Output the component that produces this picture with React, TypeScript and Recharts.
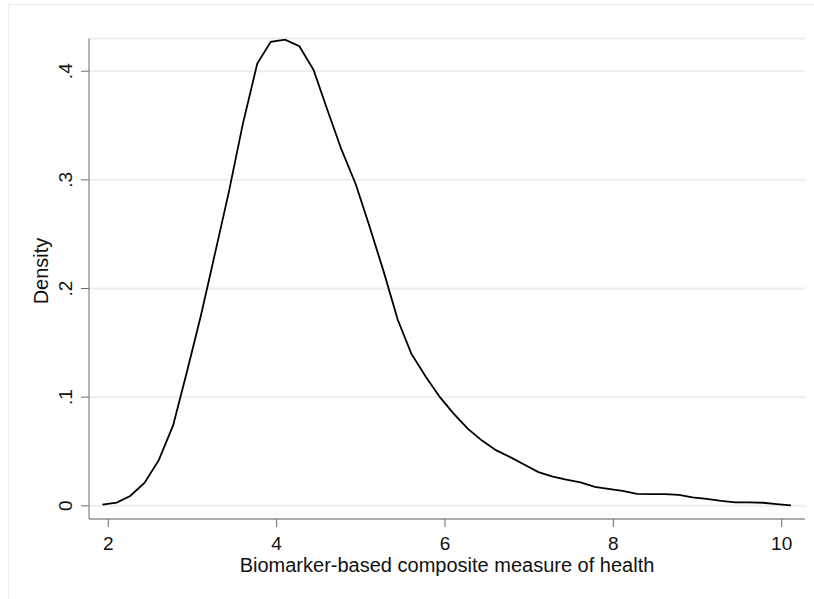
import { LineChart, Line, XAxis, YAxis, CartesianGrid } from 'recharts'

// evaluation points of the kernel density estimate
const xPoints = [
  1.93, 2.10, 2.26, 2.43, 2.60, 2.77, 2.93, 3.10, 3.27, 3.43,
  3.60, 3.77, 3.93, 4.10, 4.27, 4.44, 4.60, 4.77, 4.94, 5.10,
  5.27, 5.44, 5.60, 5.77, 5.94, 6.10, 6.27, 6.44, 6.61, 6.77,
  6.94, 7.11, 7.27, 7.44, 7.61, 7.78, 7.94, 8.11, 8.28, 8.44,
  8.61, 8.78, 8.94, 9.11, 9.28, 9.45, 9.61, 9.78, 9.94, 10.11,
]

const densities = [
  0.001, 0.003, 0.009, 0.021, 0.042, 0.074, 0.122, 0.175, 0.233, 0.288,
  0.352, 0.407, 0.427, 0.429, 0.423, 0.401, 0.365, 0.328, 0.296, 0.258,
  0.216, 0.171, 0.140, 0.119, 0.100, 0.085, 0.071, 0.060, 0.051, 0.045,
  0.038, 0.031, 0.027, 0.024, 0.0215, 0.0175, 0.0156, 0.0138, 0.011, 0.0108,
  0.0108, 0.0101, 0.0077, 0.0064, 0.0046, 0.0031, 0.0031, 0.0028, 0.0016, 0.0004,
]

const xTicks = [2, 4, 6, 8, 10]
const yTicks = [0, 0.1, 0.2, 0.3, 0.4]

const xTitle = 'Biomarker-based composite measure of health'
const yTitle = 'Density'

const data = xPoints.map((x, i) => ({ x, density: densities[i] }))

const FONT = '"Liberation Sans", Arial, sans-serif'
const AXIS = '#6b6b6b'
const GRID = '#e8eff1'

const fmtY = (v: number) => (v === 0 ? '0' : String(Number(v.toFixed(1))).replace(/^0/, ''))

function XTick({ x, y, payload }: any) {
  return (
    <text x={x} y={y} dy="0.71em" textAnchor="middle" fontFamily={FONT} fontSize={19} fill="#111">
      {payload.value}
    </text>
  )
}

function YTick({ x, y, payload }: any) {
  return (
    <text
      x={x}
      y={y}
      transform={`rotate(-90, ${x}, ${y})`}
      textAnchor="middle"
      fontFamily={FONT}
      fontSize={19}
      fill="#111"
    >
      {fmtY(payload.value)}
    </text>
  )
}

export default function App() {
  return (
    <div style={{ position: 'fixed', left: 0, top: 0, width: 814, height: 599, background: '#fff' }}>
      <div
        style={{
          position: 'absolute',
          left: 8,
          top: 4,
          right: 0,
          bottom: 0,
          borderTop: `1.5px solid ${GRID}`,
          borderLeft: `1.5px solid ${GRID}`,
        }}
      />
      <LineChart
        width={814}
        height={599}
        data={data}
        margin={{ top: 38.5, right: 9, bottom: 0, left: 0 }}
        style={{ position: 'absolute', left: 0, top: 0 }}
      >
        <CartesianGrid vertical={false} stroke={GRID} strokeWidth={2} />
        <XAxis
          type="number"
          dataKey="x"
          domain={[1.771, 10.277]}
          ticks={xTicks}
          allowDataOverflow
          height={80}
          tickSize={8}
          tickMargin={10}
          stroke={AXIS}
          tick={<XTick />}
          label={{
            content: ({ viewBox }: any) => (
              <text
                x={viewBox.x + viewBox.width / 2}
                y={572}
                textAnchor="middle"
                fontFamily={FONT}
                fontSize={20}
                fill="#111"
              >
                {xTitle}
              </text>
            ),
          }}
        />
        <YAxis
          type="number"
          domain={[-0.01215, 0.4301]}
          ticks={yTicks}
          allowDataOverflow
          width={89}
          tickSize={8}
          tickMargin={9}
          stroke={AXIS}
          tick={<YTick />}
          label={{
            content: ({ viewBox }: any) => (
              <text
                x={48}
                y={271}
                transform={`rotate(-90, 48, 271)`}
                textAnchor="middle"
                fontFamily={FONT}
                fontSize={20}
                fill="#111"
              >
                {yTitle}
              </text>
            ),
          }}
        />
        <Line
          type="linear"
          dataKey="density"
          stroke="#000"
          strokeWidth={1.8}
          dot={false}
          isAnimationActive={false}
        />
      </LineChart>
    </div>
  )
}
